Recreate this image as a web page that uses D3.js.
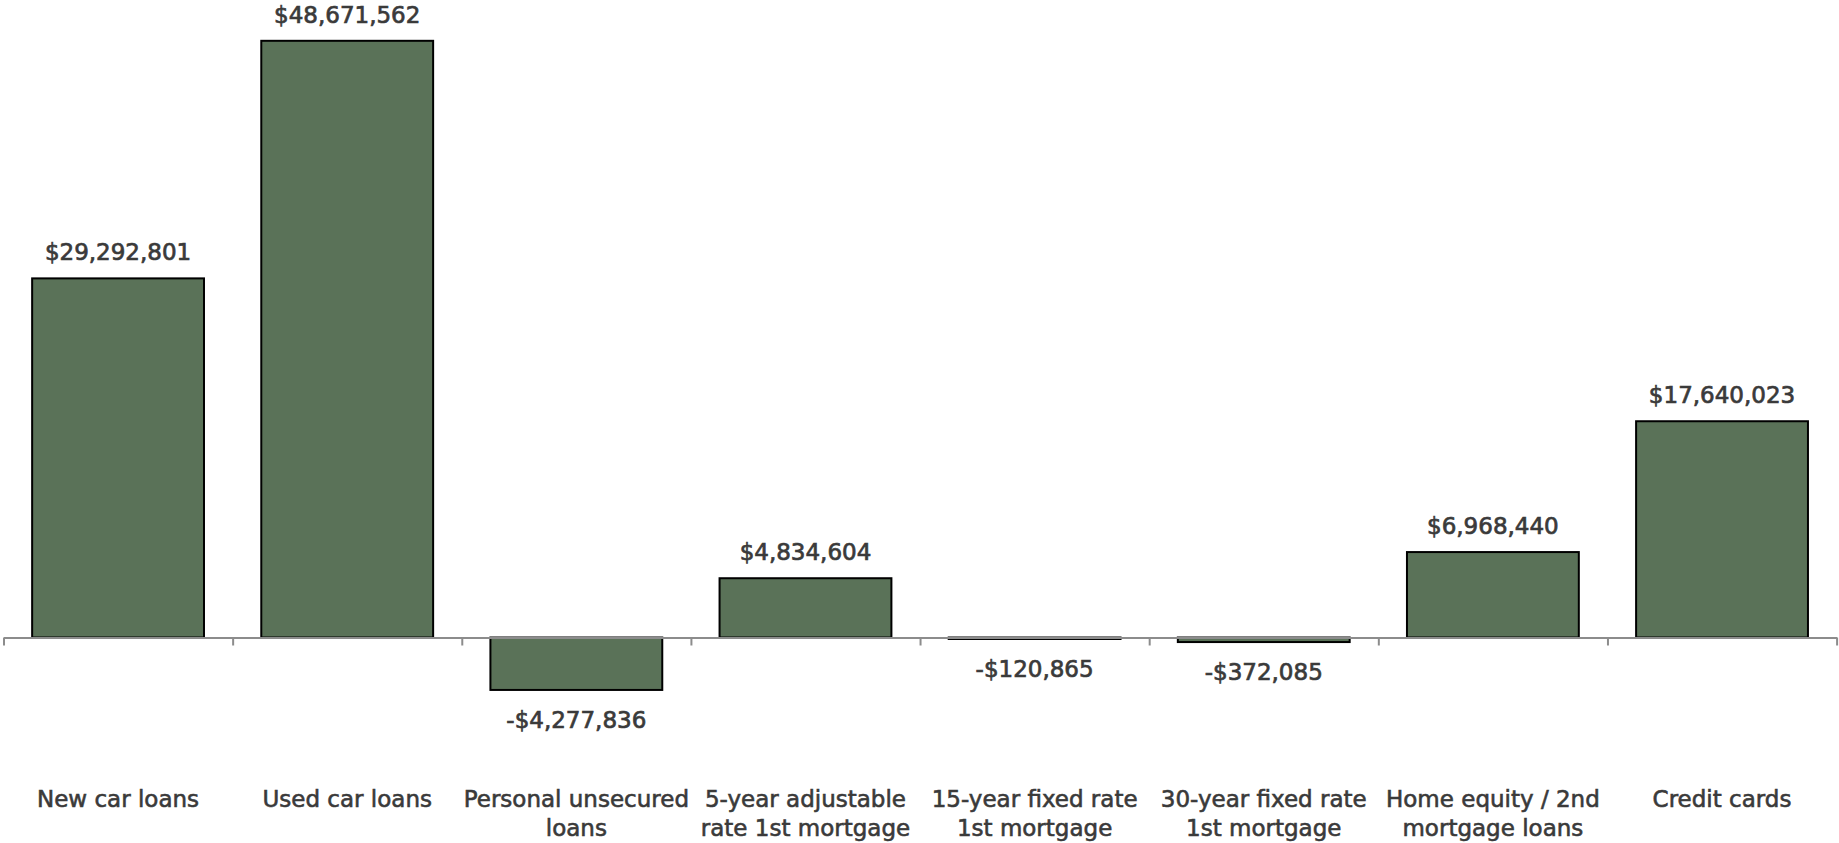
<!DOCTYPE html>
<html>
<head>
<meta charset="utf-8">
<script src="https://cdn.jsdelivr.net/npm/d3@7"></script>
<style>
  html, body { margin: 0; padding: 0; background: #ffffff; }
  svg { display: block; }
  .value-label { font-family: "DejaVu Sans", Verdana, sans-serif; font-size: 23px; fill: #3a3a3a; stroke: #3a3a3a; stroke-width: 0.7px; }
  .cat-label { font-family: "DejaVu Sans", Verdana, sans-serif; font-size: 23px; fill: #3a3a3a; stroke: #3a3a3a; stroke-width: 0.6px; }
</style>
</head>
<body>
<svg id="chart" width="1839" height="843"></svg>
<script>
// Loan categories (each label split into display lines)
const categories = [
  "New car loans",
  "Used car loans",
  "Personal unsecured loans",
  "5-year adjustable rate 1st mortgage",
  "15-year fixed rate 1st mortgage",
  "30-year fixed rate 1st mortgage",
  "Home equity / 2nd mortgage loans",
  "Credit cards"
];
const categoryLines = [
  ["New car loans"],
  ["Used car loans"],
  ["Personal unsecured", "loans"],
  ["5-year adjustable", "rate 1st mortgage"],
  ["15-year fixed rate", "1st mortgage"],
  ["30-year fixed rate", "1st mortgage"],
  ["Home equity / 2nd", "mortgage loans"],
  ["Credit cards"]
];
// Dollar values per category
const values = [29292801, 48671562, -4277836, 4834604, -120865, -372085, 6968440, 17640023];

const plotLeft = 3.5, plotRight = 1836.6;
const zeroY = 637.5;

const svg = d3.select("#chart");

const x = d3.scaleBand()
  .domain(categories)
  .range([plotLeft, plotRight])
  .paddingInner(0.25)
  .paddingOuter(0.125);

const y = d3.scaleLinear()
  .domain([0, 52000000])
  .range([zeroY, 0]);

const fmt = v => (v < 0 ? "-$" : "$") + d3.format(",")(Math.abs(v));

const data = categories.map((c, i) => ({ cat: c, value: values[i], lines: categoryLines[i] }));

// Bars
svg.append("g")
  .selectAll("rect")
  .data(data)
  .join("rect")
  .attr("x", d => x(d.cat))
  .attr("width", x.bandwidth())
  .attr("y", d => Math.min(y(d.value), y(0)))
  .attr("height", d => Math.abs(y(d.value) - y(0)))
  .attr("fill", "#5a7258")
  .attr("stroke", "#000000")
  .attr("stroke-width", 2);

// Category axis: baseline with ticks on the band boundaries
const boundary = d3.scaleLinear().domain([0, categories.length]).range([plotLeft, plotRight]);
const axis = svg.append("g")
  .attr("transform", `translate(0,${zeroY})`)
  .call(d3.axisBottom(boundary)
    .tickValues(d3.range(0, categories.length + 1))
    .tickSize(8)
    .tickSizeOuter(0)
    .tickFormat(""));
axis.select(".domain").attr("stroke", "#8c8c8c").attr("stroke-width", 2);
axis.selectAll(".tick line").attr("stroke", "#8c8c8c").attr("stroke-width", 2);

// Value labels
svg.append("g")
  .selectAll("text")
  .data(data)
  .join("text")
  .attr("class", "value-label")
  .attr("text-anchor", "middle")
  .attr("x", d => x(d.cat) + x.bandwidth() / 2)
  .attr("y", d => d.value >= 0 ? y(d.value) - 18 : y(d.value) + 38)
  .text(d => fmt(d.value));

// Category labels
const cat = svg.append("g")
  .selectAll("text")
  .data(data)
  .join("text")
  .attr("class", "cat-label")
  .attr("text-anchor", "middle")
  .attr("x", d => x(d.cat) + x.bandwidth() / 2)
  .attr("y", 807);
cat.selectAll("tspan")
  .data(d => d.lines.map(l => ({ l, cx: x(d.cat) + x.bandwidth() / 2 })))
  .join("tspan")
  .attr("x", t => t.cx)
  .attr("dy", (t, i) => i === 0 ? 0 : 29)
  .text(t => t.l);
</script>
</body>
</html>
